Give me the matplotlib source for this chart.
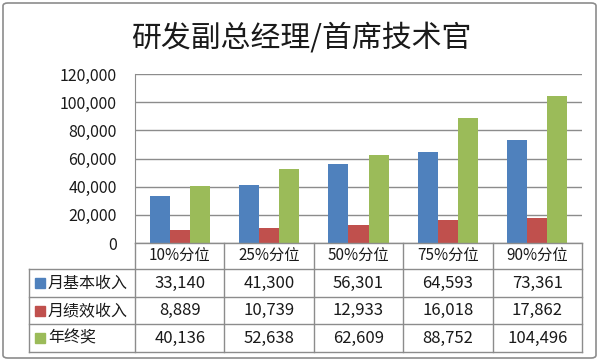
import numpy as np
import matplotlib
matplotlib.use('Agg')
import matplotlib.pyplot as plt
from matplotlib.patches import Rectangle, FancyBboxPatch
from matplotlib.lines import Line2D
from matplotlib.transforms import blended_transform_factory
from matplotlib.ticker import FuncFormatter

plt.rcParams['font.family'] = ['Noto Sans CJK SC', 'DejaVu Sans']

# data
title = '研发副总经理/首席技术官'
categories = ['10%分位', '25%分位', '50%分位', '75%分位', '90%分位']
series_names = ['月基本收入', '月绩效收入', '年终奖']
base_income = [33140, 41300, 56301, 64593, 73361]
perf_income = [8889, 10739, 12933, 16018, 17862]
year_bonus = [40136, 52638, 62609, 88752, 104496]
colors = ['#4F81BD', '#C0504D', '#9BBB59']

W, H = 602, 362
def fx(px):
    return px / W
def fy(py):
    return 1 - py / H

fig = plt.figure(figsize=(W / 100, H / 100), dpi=100)

# outer chart border
fig.patches.append(FancyBboxPatch((fx(3), fy(358)), fx(596) - fx(3), fy(3) - fy(358),
                                  boxstyle='round,pad=0,rounding_size=0.008',
                                  transform=fig.transFigure, fill=False,
                                  edgecolor='#8c8c8c', linewidth=1.2))

fig.text(0.5, fy(38), title, ha='center', va='center', fontsize=21.5, color='#1a1a1a')

ax = fig.add_axes([fx(135), fy(243), fx(582) - fx(135), fy(74) - fy(243)])
x = np.arange(len(categories))
bw = 0.224
all_series = [base_income, perf_income, year_bonus]
for i, vals in enumerate(all_series):
    ax.bar(x + (i - 1) * bw, vals, width=bw, color=colors[i], zorder=3)

ax.set_xlim(-0.5, len(categories) - 0.5)
ax.set_ylim(0, 120000)
ax.set_yticks(np.arange(0, 120001, 20000))
ax.yaxis.set_major_formatter(FuncFormatter(lambda v, p: f'{int(v):,}'))
ax.tick_params(axis='y', length=0, pad=13, labelsize=11.5, labelcolor='#1a1a1a')
ax.set_xticks([])
ax.yaxis.grid(True, color='#8c8c8c', linewidth=1.0, zorder=0)
for s in ['top', 'right', 'bottom']:
    ax.spines[s].set_visible(False)
ax.spines['left'].set_color('#8c8c8c')

# data table under the axes
tr = blended_transform_factory(ax.transData, fig.transFigure)
line_kw = dict(color='#8c8c8c', linewidth=1.0)
row_y = [243, 269, 297, 324, 352]
n = len(categories)
leg_left = -0.5 - (135 - 29) / ((582 - 135) / n)

fig.add_artist(Line2D([-0.5, n - 0.5], [fy(row_y[0])] * 2, transform=tr, **line_kw))
for yy in row_y[1:]:
    fig.add_artist(Line2D([leg_left, n - 0.5], [fy(yy)] * 2, transform=tr, **line_kw))
for k in range(n + 1):
    fig.add_artist(Line2D([k - 0.5] * 2, [fy(row_y[0]), fy(row_y[-1])], transform=tr, **line_kw))
fig.add_artist(Line2D([leg_left] * 2, [fy(row_y[1]), fy(row_y[-1])], transform=tr, **line_kw))

for k, c in enumerate(categories):
    fig.text(k, fy((row_y[0] + row_y[1]) / 2), c, transform=tr, ha='center', va='center',
             fontsize=11, color='#1a1a1a')

for r, vals in enumerate(all_series):
    ymid = fy((row_y[r + 1] + row_y[r + 2]) / 2)
    fig.patches.append(Rectangle((fx(35), ymid - (10 / H) / 2), 10 / W, 10 / H,
                                 transform=fig.transFigure, color=colors[r]))
    fig.text(fx(48), ymid, series_names[r], ha='left', va='center', fontsize=11.5, color='#1a1a1a')
    for k, v in enumerate(vals):
        fig.text(k, ymid, f'{v:,}', transform=tr, ha='center', va='center',
                 fontsize=12, color='#1a1a1a')

plt.savefig('out.png', dpi=100)
